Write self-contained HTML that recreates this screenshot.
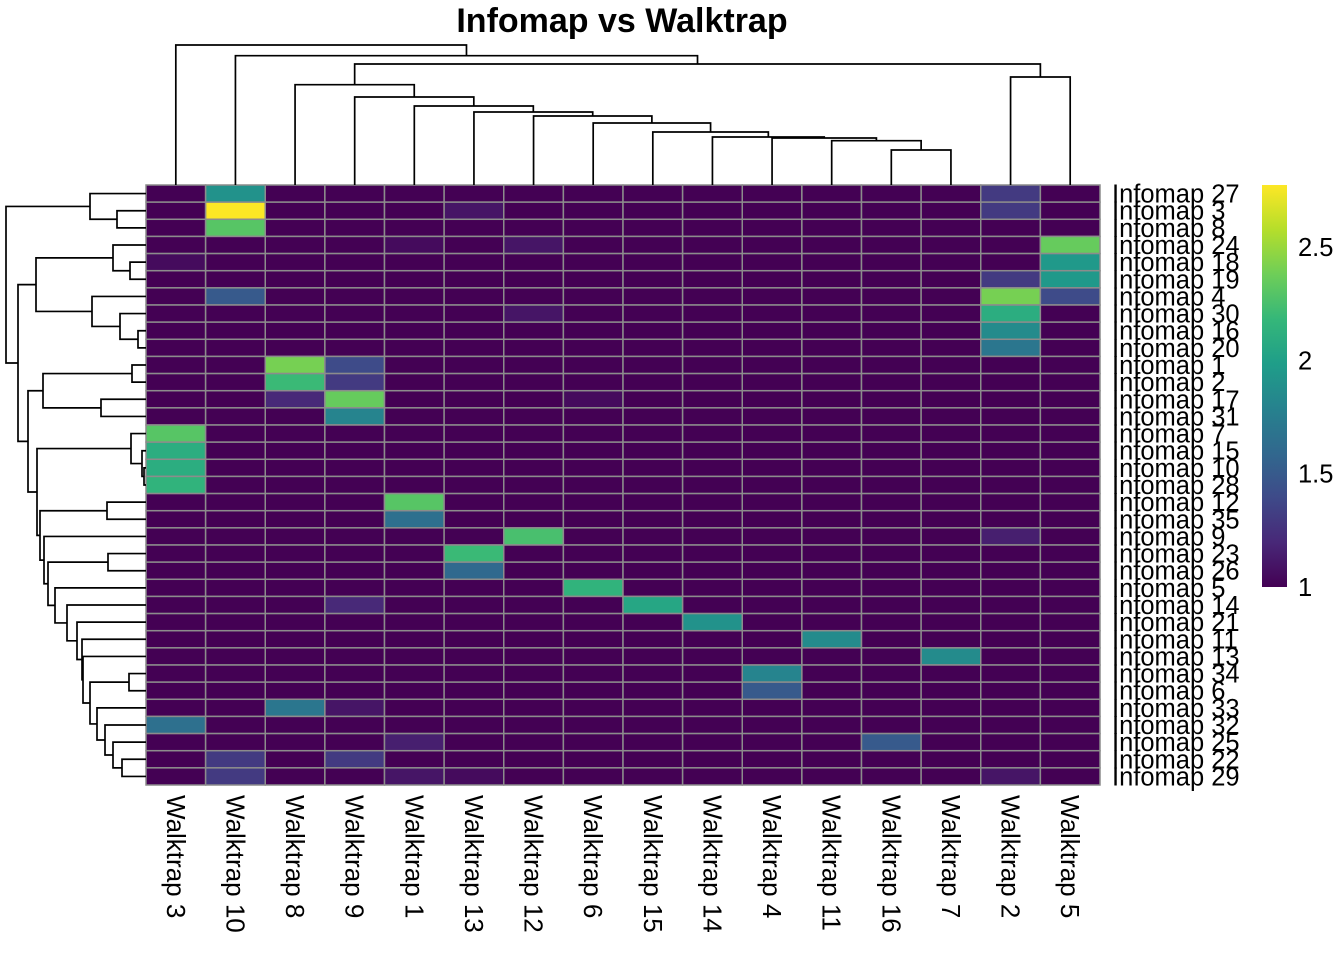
<!DOCTYPE html>
<html><head><meta charset="utf-8"><style>
html,body{margin:0;padding:0;background:#fff;width:1344px;height:960px;overflow:hidden}
svg{display:block;font-family:"Liberation Sans",Arial,sans-serif}
</style></head><body>
<svg id="chart" width="1344" height="960" xmlns="http://www.w3.org/2000/svg">
<text x="622" y="32" text-anchor="middle" font-size="34" font-weight="bold">Infomap vs Walktrap</text>
</svg>
<script>
const colLabels=["Walktrap 3","Walktrap 10","Walktrap 8","Walktrap 9","Walktrap 1","Walktrap 13","Walktrap 12","Walktrap 6","Walktrap 15","Walktrap 14","Walktrap 4","Walktrap 11","Walktrap 16","Walktrap 7","Walktrap 2","Walktrap 5"];
const rowLabels=["Infomap 27","Infomap 3","Infomap 8","Infomap 24","Infomap 18","Infomap 19","Infomap 4","Infomap 30","Infomap 16","Infomap 20","Infomap 1","Infomap 2","Infomap 17","Infomap 31","Infomap 7","Infomap 15","Infomap 10","Infomap 28","Infomap 12","Infomap 35","Infomap 9","Infomap 23","Infomap 26","Infomap 5","Infomap 14","Infomap 21","Infomap 11","Infomap 13","Infomap 34","Infomap 6","Infomap 33","Infomap 32","Infomap 25","Infomap 22","Infomap 29"];
const values=[
[1,1.9,1,1,1,1,1,1,1,1,1,1,1,1,1.3,1],
[1,2.77,1,1,1,1.1,1,1,1,1,1,1,1,1,1.3,1],
[1,2.3,1,1,1,1,1,1,1,1,1,1,1,1,1,1],
[1,1,1,1,1.05,1,1.1,1,1,1,1,1,1,1,1,2.35],
[1.05,1,1,1,1,1,1,1,1,1,1,1,1,1,1,1.95],
[1,1,1,1,1,1,1,1,1,1,1,1,1,1,1.3,1.95],
[1,1.5,1,1,1,1,1,1,1,1,1,1,1,1,2.4,1.4],
[1,1,1,1,1,1,1.1,1,1,1,1,1,1,1,2.1,1],
[1,1,1,1,1,1,1,1,1,1,1,1,1,1,1.85,1],
[1,1,1,1,1,1,1,1,1,1,1,1,1,1,1.7,1],
[1,1,2.4,1.4,1,1,1,1,1,1,1,1,1,1,1,1],
[1,1,2.2,1.3,1,1,1,1,1,1,1,1,1,1,1,1],
[1,1,1.2,2.35,1,1,1,1.05,1,1,1,1,1,1,1,1],
[1,1,1,1.8,1,1,1,1,1,1,1,1,1,1,1,1],
[2.3,1,1,1,1,1,1,1,1,1,1,1,1,1,1,1],
[2.1,1,1,1,1,1,1,1,1,1,1,1,1,1,1,1],
[2.1,1,1,1,1,1,1,1,1,1,1,1,1,1,1,1],
[2.15,1,1,1,1,1,1,1,1,1,1,1,1,1,1,1],
[1,1,1,1,2.3,1,1,1,1,1,1,1,1,1,1,1],
[1,1,1,1,1.65,1,1,1,1,1,1,1,1,1,1,1],
[1,1,1,1,1,1,2.25,1,1,1,1,1,1,1,1.15,1],
[1,1,1,1,1,2.2,1,1,1,1,1,1,1,1,1,1],
[1,1,1,1,1,1.6,1,1,1,1,1,1,1,1,1,1],
[1,1,1,1,1,1,1,2.15,1,1,1,1,1,1,1,1],
[1,1,1,1.2,1,1,1,1,2.05,1,1,1,1,1,1,1],
[1,1,1,1,1,1,1,1,1,1.9,1,1,1,1,1,1],
[1,1,1,1,1,1,1,1,1,1,1,1.85,1,1,1,1],
[1,1,1,1,1,1,1,1,1,1,1,1,1,1.85,1,1],
[1,1,1,1,1,1,1,1,1,1,1.8,1,1,1,1,1],
[1,1,1,1,1,1,1,1,1,1,1.5,1,1,1,1,1],
[1,1,1.7,1.1,1,1,1,1,1,1,1,1,1,1,1,1],
[1.65,1,1,1,1,1,1,1,1,1,1,1,1,1,1,1],
[1,1,1,1,1.15,1,1,1,1,1,1,1,1.5,1,1,1],
[1,1.3,1,1.3,1,1,1,1,1,1,1,1,1,1,1,1],
[1,1.3,1,1,1.1,1.05,1,1,1,1,1,1,1,1,1.1,1]];
const legendTicks=[1,1.5,2,2.5];
const legendMin=1, legendMax=2.773;
// dendrograms: [left,right,height]; numbers = leaf indices
const colTree=[0,[1,[[2,[3,[4,[5,[6,[7,[8,[9,[10,[11,[12,13,35],44.3],47],48],53],62],69],73],79],88],100.3],[14,15,108],121],129.3],140];
const rowTree=[[0,[1,2,29],56],[[[3,[4,5,16],33],[6,[7,[8,9,8],26],54],110],[[[10,11,14],[12,13,45],103],[[14,[15,[16,17,2],4],15],[[18,19,39],[20,[[21,22,38],[23,[24,[25,[26,[27,[[28,29,17],[30,[31,[32,[33,34,24],33],41],49],56],63],64],69],79],91],98],102],106],109],118],128],140];

const X0=146,X1=1100,Y0=185,Y1=785;
const cw=(X1-X0)/colLabels.length, rh=(Y1-Y0)/rowLabels.length;
const xc=i=>X0+cw*(i+0.5), yc=i=>Y0+rh*(i+0.5);
const vir=[[68,1,84],[72,40,120],[62,74,137],[49,104,142],[38,130,142],[31,158,137],[53,183,121],[110,206,88],[181,222,43],[253,231,37]];
function color(v){let t=Math.max(0,Math.min(1,(v-legendMin)/(legendMax-legendMin)))*(vir.length-1);let i=Math.min(Math.floor(t),vir.length-2),f=t-i;const c=vir[i].map((a,k)=>Math.round(a+(vir[i+1][k]-a)*f));return `rgb(${c[0]},${c[1]},${c[2]})`;}
const svg=document.getElementById('chart');const NS="http://www.w3.org/2000/svg";
function mk(tag,attrs,parent){const e=document.createElementNS(NS,tag);for(const k in attrs)e.setAttribute(k,attrs[k]);(parent||svg).appendChild(e);return e;}
const cells=mk('g',{});


values.forEach((row,r)=>row.forEach((v,c)=>{
 const e=mk('rect',{x:X0+cw*c,y:Y0+rh*r,width:cw,height:rh,fill:color(v),stroke:'#8c8c8c','stroke-width':1.5},cells);
 
 
}));
rowLabels.forEach((l,r)=>{const t=mk('text',{x:1112,y:yc(r)+9,'font-size':25.5},svg);t.textContent=l;
 
 });
colLabels.forEach((l,c)=>{const t=mk('text',{transform:`translate(${xc(c)-9},795) rotate(90)`,'font-size':26},svg);t.textContent=l;
 
 });
// dendrograms
function drawTree(node,pos,horiz,g){
 if(typeof node==='number')return {p:pos(node),h:0};
 const a=drawTree(node[0],pos,horiz,g),b=drawTree(node[1],pos,horiz,g),h=node[2];
 let d;
 if(!horiz){const y=v=>185-v;d=`M${a.p},${y(a.h)}V${y(h)}H${b.p}V${y(b.h)}`;}
 else{const x=v=>146-v;d=`M${x(a.h)},${a.p}H${x(h)}V${b.p}H${x(b.h)}`;}
 const e=mk('path',{d:d,fill:'none',stroke:'#000','stroke-width':1.7},g);
 
 
 return {p:(a.p+b.p)/2,h:h};
}
const cg=mk('g',{});


drawTree(colTree,xc,false,cg);
const rg=mk('g',{});


drawTree(rowTree,yc,true,rg);
// legend
const LY0=185,LY1=587,LX=1262,LW=25;
const defs=mk('defs',{});
const grad=mk('linearGradient',{id:'vg',x1:0,y1:1,x2:0,y2:0},defs);
vir.forEach((c,i)=>mk('stop',{offset:i/(vir.length-1),'stop-color':`rgb(${c})`},grad));
const lb=mk('rect',{x:LX,y:LY0,width:LW,height:LY1-LY0,fill:'url(#vg)'});


const ly=v=>LY1-(v-legendMin)/(legendMax-legendMin)*(LY1-LY0);
legendTicks.forEach(v=>{const t=mk('text',{x:1298,y:ly(v)+9,'font-size':25.5});t.textContent=String(v);
 
 });
</script>
</body></html>
